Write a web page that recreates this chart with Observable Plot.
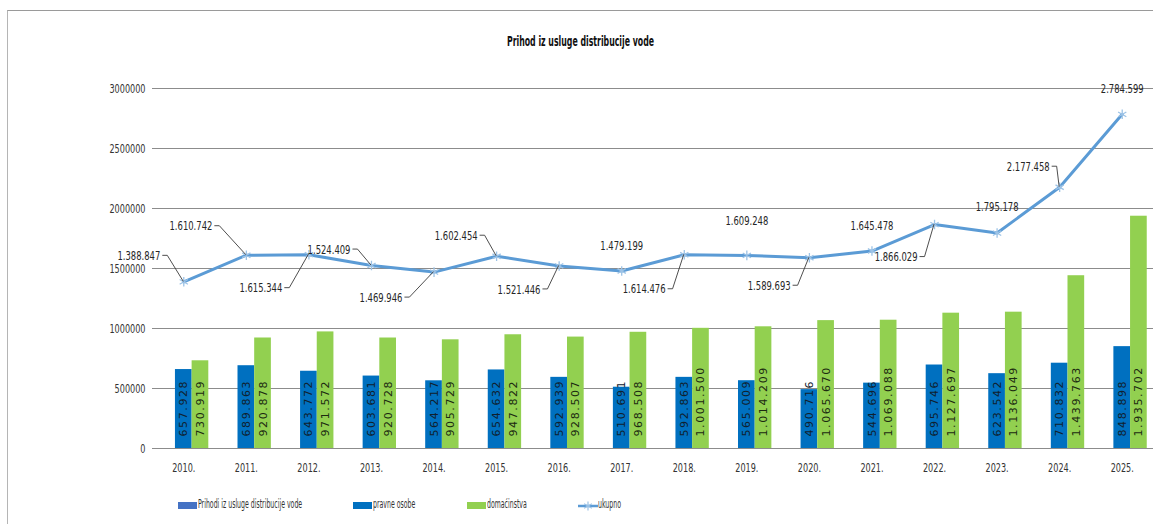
<!DOCTYPE html>
<html>
<head>
<meta charset="utf-8">
<script src="https://cdn.jsdelivr.net/npm/d3@7"></script>
<script src="https://cdn.jsdelivr.net/npm/@observablehq/plot@0.6"></script>
<style>
  body { margin: 0; background: #fff; }
  #wrap { position: relative; width: 1153px; height: 524px; overflow: hidden;
          font-family: "Liberation Sans Narrow", "DejaVu Sans Condensed", "Liberation Sans", sans-serif; }
  #frame { position: absolute; left: 7px; top: 10px; width: 1200px; height: 600px;
           border-top: 1px solid #9a9a9a; border-left: 1px solid #b5b5b5; }
  #title { position: absolute; top: 33px; left: 0; width: 1161px; text-align: center;
           font-weight: bold; font-size: 14px; color: #111; transform: scaleX(0.62); transform-origin: center; }
  #chart { position: absolute; top: 55px; left: 0; }
  .lg-sw { position: absolute; top: 502px; width: 19px; height: 7px; }
  .lg-tx { position: absolute; top: 497px; font-size: 11.5px; color: #333; white-space: nowrap;
           transform: scaleX(0.6); transform-origin: left center; }
</style>
</head>
<body>
<div id="wrap">
  <div id="frame"></div>
  <div id="title">Prihod iz usluge distribucije vode</div>
  <div id="chart"></div>
  <div id="legend"></div>
</div>
<script>
// ---- data ----
const years = ["2010.", "2011.", "2012.", "2013.", "2014.", "2015.", "2016.", "2017.",
               "2018.", "2019.", "2020.", "2021.", "2022.", "2023.", "2024.", "2025."];
const pravneOsobe = [657928, 689863, 643772, 603681, 564217, 654632, 592939, 510691,
                     592863, 565009, 490716, 544696, 695746, 623542, 710832, 848898];
const domacinstva = [730919, 920878, 971572, 920728, 905729, 947822, 928507, 968508,
                     1001500, 1014209, 1065670, 1069088, 1127697, 1136049, 1439763, 1935702];
const ukupno = [1388847, 1610742, 1615344, 1524409, 1469946, 1602454, 1521446, 1479199,
                1614476, 1609248, 1589693, 1645478, 1866029, 1795178, 2177458, 2784599];
const yTicks = [0, 500000, 1000000, 1500000, 2000000, 2500000, 3000000];
const seriesNames = ["Prihodi iz usluge distribucije vode", "pravne osobe", "domaćinstva", "ukupno"];

// ---- styles / label placement (pixel offsets, not data) ----
const FONT = '"Liberation Sans Narrow", "DejaVu Sans Condensed", "Liberation Sans", sans-serif';
const colors = { prihodi: "#4472C4", pravne: "#0070C0", dom: "#92D050", line: "#5B9BD5", marker: "#9DC3E6" };
// [dx, dy, leader]  leader=true: dx is offset of label's right edge; false: centered label
const labelPlacement = [
  [-23.5, -26, true], [-34, -29, true], [-26.6, 33.5, true], [-21, -16, true],
  [-31.6, 25.5, true], [-19, -20.5, true], [-18.7, 23.5, true], [0, -25, false],
  [-18.7, 34.5, true], [0, -35, false], [-18.8, 28, true], [0, -25, false],
  [-17, 32.5, true], [0, -26, false], [-10, -20.5, true], [0, -25.5, false]
];
const SQUEEZE = 0.72; // horizontal compression of the narrow chart font

const fmt = v => d3.format(",")(v).replace(/,/g, ".");
const rows = years.map((year, i) => ({ year, pravne: pravneOsobe[i], dom: domacinstva[i], ukupno: ukupno[i] }));

const W = 1153, H = 425, ML = 152, MR = 0, MT = 33, MB = 32;
const bw = (W - ML - MR) / years.length;
const slot = bw / 3.75, outer = slot * 0.375;

const lineLabels = rows.map((d, i) => {
  const [dx, dy, leader] = labelPlacement[i];
  return Plot.text([d], {
    x: "year", y: "ukupno", text: r => fmt(r.ukupno),
    dx, dy, textAnchor: leader ? "end" : "middle",
    fill: "#262626", fontSize: 13, fontFamily: FONT
  });
});

const chart = Plot.plot({
  width: W, height: H,
  marginLeft: ML, marginRight: MR, marginTop: MT, marginBottom: MB,
  style: { fontFamily: FONT, fontSize: "12.5px", background: "transparent", overflow: "visible", color: "#333" },
  x: { domain: years, padding: 0, round: false, label: null },
  y: { domain: [0, 3000000], label: null },
  marks: [
    Plot.ruleY(yTicks, { stroke: "#8c8c8c", strokeWidth: 1 }),
    Plot.axisY({ ticks: yTicks, tickSize: 0, tickPadding: 7, tickFormat: d => String(d), label: null, fill: "#333" }),
    Plot.axisX({ tickSize: 0, tickPadding: 15, label: null, fill: "#333" }),
    Plot.barY(rows, { x: "year", y: "pravne", fill: colors.pravne,
                      insetLeft: outer + slot, insetRight: bw - outer - 2 * slot }),
    Plot.barY(rows, { x: "year", y: "dom", fill: colors.dom,
                      insetLeft: outer + 2 * slot, insetRight: outer }),
    Plot.text(rows, { x: "year", y: d => 0, text: d => fmt(d.pravne), rotate: -90, textAnchor: "start",
                      dy: -12, fill: "#10202e", fontFamily: "DejaVu Sans", fontSize: 11 }),
    Plot.text(rows, { x: "year", y: d => 0, text: d => fmt(d.dom), rotate: -90, textAnchor: "start",
                      dx: slot, dy: -12, fill: "#1c2a10", fontFamily: "DejaVu Sans", fontSize: 11 }),
    Plot.line(rows, { x: "year", y: "ukupno", stroke: colors.line, strokeWidth: 3 }),
    Plot.dot(rows, { x: "year", y: "ukupno", symbol: "asterisk", stroke: colors.marker, r: 4.5, strokeWidth: 1.3 }),
    ...lineLabels
  ]
});
document.getElementById("chart").appendChild(chart);

// bar labels: wide letter spacing; other texts: narrow (compressed) glyphs
d3.select(chart).selectAll("text").each(function () {
  const rotated = (this.getAttribute("transform") || "").includes("rotate");
  if (rotated) { this.style.letterSpacing = "1.6px"; return; }
  const L = this.getComputedTextLength();
  if (L > 0) {
    this.setAttribute("textLength", (L * SQUEEZE).toFixed(2));
    this.setAttribute("lengthAdjust", "spacingAndGlyphs");
  }
});

// leader lines for line labels, through the plot's own scales
const sx = chart.scale("x"), sy = chart.scale("y");
let xBand;
if (sx.apply) xBand = v => sx.apply(v) + sx.bandwidth / 2;
else {
  const b = d3.scaleBand().domain(sx.domain).range(sx.range).paddingInner(sx.paddingInner || 0).paddingOuter(sx.paddingOuter || 0).align(sx.align ?? 0.5);
  xBand = v => b(v) + b.bandwidth() / 2;
}
const yPos = sy.apply ? v => sy.apply(v) : d3.scaleLinear().domain(sy.domain).range(sy.range);
const lg = d3.select(chart).append("g").attr("fill", "none").attr("stroke", "#3a3a3a").attr("stroke-width", 0.9);
rows.forEach((d, i) => {
  const [dx, dy, leader] = labelPlacement[i];
  if (!leader) return;
  const px = xBand(d.year), py = yPos(d.ukupno);
  const x0 = px + dx + 2.5, x1 = px + dx + 7.5, ly = py + dy;
  lg.append("path").attr("d", `M${x0},${ly}L${x1},${ly}L${px},${py}`);
});

// legend (HTML, below the SVG)
const legend = document.getElementById("legend");
const items = [
  { name: seriesNames[0], color: colors.prihodi, x: 178, type: "rect" },
  { name: seriesNames[1], color: colors.pravne, x: 353, type: "rect" },
  { name: seriesNames[2], color: colors.dom, x: 467, type: "rect" },
  { name: seriesNames[3], color: colors.line, x: 578, type: "line" }
];
items.forEach(it => {
  if (it.type === "rect") {
    const s = document.createElement("div");
    s.className = "lg-sw"; s.style.left = it.x + "px"; s.style.background = it.color;
    legend.appendChild(s);
  } else {
    const s = document.createElementNS("http://www.w3.org/2000/svg", "svg");
    s.setAttribute("width", 20); s.setAttribute("height", 12);
    s.style.position = "absolute"; s.style.left = it.x + "px"; s.style.top = "500px";
    s.innerHTML = `<line x1="0" x2="20" y1="6" y2="6" stroke="${colors.line}" stroke-width="2.5"/>` +
      `<g stroke="${colors.marker}" stroke-width="1.2"><line x1="10" x2="10" y1="1.5" y2="10.5"/>` +
      `<line x1="6.1" x2="13.9" y1="3.75" y2="8.25"/><line x1="6.1" x2="13.9" y1="8.25" y2="3.75"/></g>`;
    legend.appendChild(s);
  }
  const t = document.createElement("div");
  t.className = "lg-tx"; t.style.left = (it.x + 20) + "px"; t.textContent = it.name;
  legend.appendChild(t);
});
</script>
</body>
</html>
